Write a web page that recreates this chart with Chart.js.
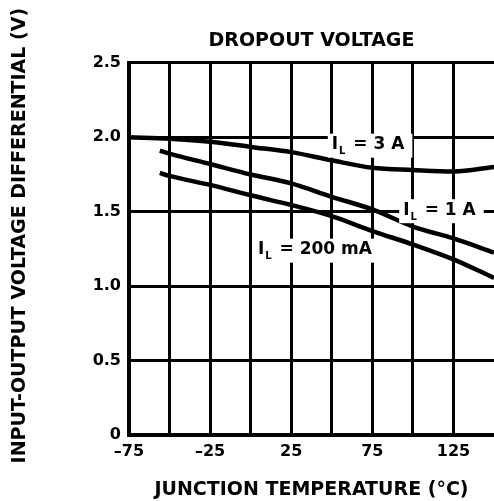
<!DOCTYPE html>
<html>
<head>
<meta charset="utf-8">
<script src="https://cdn.jsdelivr.net/npm/chart.js@4.4.1/dist/chart.umd.min.js"></script>
<style>
  html, body { margin: 0; padding: 0; background: #fff; overflow: hidden; }
  #graph { display: block; }
</style>
</head>
<body>
<canvas id="graph" width="494" height="501"></canvas>
<script>
// Dropout voltage vs junction temperature
const temps3A = [-75, -50, -25, 0, 25, 50, 75, 100, 125, 150];
const volts3A = [2.0, 1.99, 1.97, 1.935, 1.90, 1.845, 1.795, 1.78, 1.77, 1.80];

const temps1A = [-56, -50, -25, 0, 25, 50, 75, 100, 125, 150];
const volts1A = [1.91, 1.89, 1.82, 1.75, 1.69, 1.60, 1.515, 1.40, 1.32, 1.225];

const temps200mA = [-56, -50, -25, 0, 25, 50, 75, 100, 125, 150];
const volts200mA = [1.76, 1.74, 1.68, 1.61, 1.545, 1.47, 1.37, 1.28, 1.18, 1.055];

const xTickLabels = { '-75': '\u201375', '-25': '\u201325', '25': '25', '75': '75', '125': '125' };
const yTickLabels = { '0': '0', '0.5': '0.5', '1': '1.0', '1.5': '1.5', '2': '2.0', '2.5': '2.5' };

// where each curve gets its "I_L = ..." tag (temperature, volts)
const curveLabels = [
  { current: '3 A', temp: 50, volts: 1.95 },
  { current: '1 A', temp: 94, volts: 1.51 },
  { current: '200 mA', temp: 4.5, volts: 1.245 }
];

function toPoints(xs, ys) {
  return xs.map((t, i) => ({ x: t, y: ys[i] }));
}

const FONT = 'DejaVu Sans';

const labelPlugin = {
  id: 'curveLabels',
  afterDatasetsDraw(chart) {
    const { ctx, scales: { x, y } } = chart;
    const big = 'bold 17px "' + FONT + '"';
    const small = 'bold 10px "' + FONT + '"';
    ctx.save();
    curveLabels.forEach(l => {
      const px = x.getPixelForValue(l.temp);
      const py = y.getPixelForValue(l.volts);
      const rest = '  = ' + l.current;
      ctx.font = big;
      const wI = ctx.measureText('I').width;
      const wR = ctx.measureText(rest).width;
      ctx.font = small;
      const wL = ctx.measureText('L').width;
      const w = wI + 1 + wL + wR;
      ctx.fillStyle = '#ffffff';
      ctx.fillRect(px - 4, py - 11, w + 8, 24);
      ctx.fillStyle = '#000000';
      ctx.textBaseline = 'middle';
      ctx.textAlign = 'left';
      ctx.font = big;
      ctx.fillText('I', px, py);
      ctx.font = small;
      ctx.fillText('L', px + wI + 1, py + 7);
      ctx.font = big;
      ctx.fillText(rest, px + wI + 1 + wL - 4, py);
    });
    ctx.restore();
  }
};

const lineStyle = {
  borderColor: '#000000',
  borderWidth: 4.5,
  pointRadius: 0,
  fill: false,
  tension: 0.4,
  cubicInterpolationMode: 'monotone'
};

new Chart(document.getElementById('graph').getContext('2d'), {
  type: 'line',
  data: {
    datasets: [
      Object.assign({ label: 'IL = 3 A', data: toPoints(temps3A, volts3A) }, lineStyle),
      Object.assign({ label: 'IL = 1 A', data: toPoints(temps1A, volts1A) }, lineStyle),
      Object.assign({ label: 'IL = 200 mA', data: toPoints(temps200mA, volts200mA) }, lineStyle)
    ]
  },
  options: {
    responsive: false,
    animation: false,
    events: [],
    layout: { padding: { top: 0, right: 0, left: 0, bottom: 0 } },
    plugins: {
      legend: { display: false },
      tooltip: { enabled: false },
      title: {
        display: true,
        text: 'DROPOUT VOLTAGE',
        fullSize: false,
        color: '#000000',
        font: { family: FONT, size: 19, weight: 'bold' },
        padding: { top: 30, bottom: 10 }
      }
    },
    scales: {
      x: {
        type: 'linear',
        min: -75,
        max: 150,
        afterBuildTicks(scale) {
          scale.ticks = [-75, -50, -25, 0, 25, 50, 75, 100, 125].map(v => ({ value: v }));
        },
        afterFit(scale) { scale.height = 66; },
        grid: { color: '#000000', lineWidth: 3, drawTicks: false },
        border: { display: true, color: '#000000', width: 4 },
        ticks: {
          autoSkip: false,
          maxRotation: 0,
          padding: 7,
          color: '#000000',
          font: { family: FONT, size: 16, weight: 'bold' },
          callback: v => xTickLabels[String(v)] || ''
        },
        title: {
          display: true,
          text: 'JUNCTION TEMPERATURE (\u00B0C)',
          color: '#000000',
          font: { family: FONT, size: 19, weight: 'bold' },
          padding: { top: 0, bottom: 0 }
        }
      },
      y: {
        min: 0,
        max: 2.5,
        afterFit(scale) { scale.width = 129; },
        grid: { color: '#000000', lineWidth: 3, drawTicks: false },
        border: { display: true, color: '#000000', width: 4 },
        ticks: {
          stepSize: 0.5,
          padding: 8,
          color: '#000000',
          font: { family: FONT, size: 16, weight: 'bold' },
          callback: v => yTickLabels[String(v)] || ''
        },
        title: {
          display: true,
          // leading spaces nudge the rotated text upward, as in the original
          text: '    INPUT-OUTPUT VOLTAGE DIFFERENTIAL (V)',
          color: '#000000',
          font: { family: FONT, size: 19, weight: 'bold' },
          padding: { top: 9, bottom: 0 }
        }
      }
    }
  },
  plugins: [labelPlugin]
});
</script>
</body>
</html>
